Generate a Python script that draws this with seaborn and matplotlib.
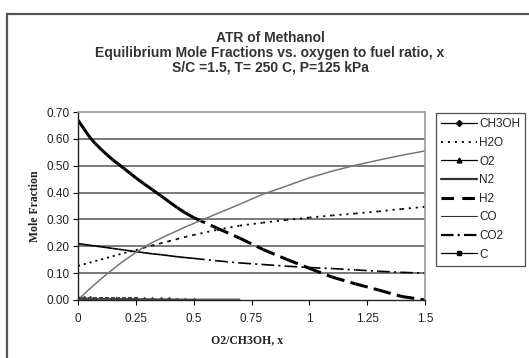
import numpy as np
import pandas as pd
import matplotlib
matplotlib.use("Agg")
import matplotlib.pyplot as plt
import seaborn as sns
from matplotlib.lines import Line2D
from matplotlib.patches import Rectangle

# ---------------- data ----------------
x = [0, 0.025, 0.05, 0.075, 0.1, 0.125, 0.15, 0.175, 0.2, 0.225, 0.25,
     0.286, 0.321, 0.357, 0.393, 0.429, 0.464, 0.5,
     0.6, 0.7, 0.8, 0.9, 1.0, 1.1, 1.2, 1.3, 1.4, 1.5]

h2 = [0.670, 0.638, 0.607, 0.582, 0.561, 0.541, 0.522, 0.506, 0.489, 0.472, 0.455,
      0.432, 0.411, 0.389, 0.366, 0.344, 0.324, 0.307,
      0.268, 0.230, 0.188, 0.152, 0.118, 0.085, 0.060, 0.037, 0.013, 0.000]

n2 = [0.000, 0.021, 0.041, 0.060, 0.079, 0.097, 0.114, 0.131, 0.147, 0.162, 0.177,
      0.198, 0.214, 0.229, 0.244, 0.258, 0.272, 0.285,
      0.321, 0.357, 0.394, 0.424, 0.455, 0.480, 0.502, 0.521, 0.539, 0.555]

h2o = [0.127, 0.133, 0.139, 0.145, 0.151, 0.157, 0.163, 0.169, 0.175, 0.180, 0.186,
       0.195, 0.203, 0.211, 0.219, 0.227, 0.235, 0.242,
       0.261, 0.277, 0.288, 0.298, 0.307, 0.315, 0.322, 0.330, 0.339, 0.347]

co2 = [0.210, 0.207, 0.204, 0.201, 0.198, 0.195, 0.192, 0.189, 0.186, 0.183, 0.180,
       0.176, 0.172, 0.169, 0.165, 0.161, 0.158, 0.155,
       0.146, 0.138, 0.132, 0.126, 0.121, 0.117, 0.112, 0.107, 0.103, 0.100]

ch3oh = [0.008, 0.007, 0.006, 0.0055, 0.005, 0.0045, 0.004, 0.0035, 0.003, 0.003, 0.0025,
         0.0025, 0.002, 0.002, 0.002, 0.0015, 0.0015, 0.001]

o2 = [0.003, 0.002, 0.002, 0.002, 0.002, 0.002, 0.002, 0.002, 0.002, 0.002, 0.002]

c_solid = [0.005, 0.005, 0.0045, 0.004, 0.004, 0.0035, 0.0035, 0.003, 0.003, 0.003, 0.003]

co = [0.006, 0.006, 0.0055, 0.0055, 0.005, 0.005, 0.005, 0.0045, 0.0045, 0.0045, 0.004,
      0.004, 0.004, 0.0035, 0.0035, 0.0035, 0.003, 0.003, 0.003, 0.003]

y_ticks = [0.0, 0.1, 0.2, 0.3, 0.4, 0.5, 0.6, 0.7]
y_labels = ["0.00", "0.10", "0.20", "0.30", "0.40", "0.50", "0.60", "0.70"]
x_ticks = [0, 0.25, 0.5, 0.75, 1.0, 1.25, 1.5]
x_labels = ["0", "0.25", "0.5", "0.75", "1", "1.25", "1.5"]

title_lines = ["ATR of Methanol",
               "Equilibrium Mole Fractions vs. oxygen to fuel ratio, x",
               "S/C =1.5, T= 250 C, P=125 kPa"]

# ---------------- style ----------------
sns.set_theme(style="white")
plt.rcParams["font.family"] = ["Liberation Sans", "DejaVu Sans"]
plt.rcParams["lines.scale_dashes"] = False

W, H = 529, 358
fig = plt.figure(figsize=(W / 100, H / 100), dpi=100)
fig.patch.set_facecolor("white")

# outer chart frame
fig.patches.append(Rectangle((6.5 / W, -0.1), 1.2, 1.1 - 14 / H,
                             transform=fig.transFigure, fill=False,
                             edgecolor="#555555", lw=1.6, zorder=0))

L, R, B, T = 78, 425, 300, 112
ax = fig.add_axes([L / W, 1 - B / H, (R - L) / W, (B - T) / H])


def segments(xs, ys):
    """Long table where each consecutive pair of points is its own unit
    (the dash pattern restarts on every segment, as in the original)."""
    rows = []
    for i in range(len(ys) - 1):
        rows.append((xs[i], ys[i], i))
        rows.append((xs[i + 1], ys[i + 1], i))
    return pd.DataFrame(rows, columns=["x", "y", "seg"])


# dashed / dotted series drawn segment by segment
sns.lineplot(data=segments(x, h2o), x="x", y="y", units="seg", estimator=None,
             color="black", lw=1.3, linestyle=(0, (1.5, 3.5)), ax=ax, legend=False)
sns.lineplot(data=segments(x, co2), x="x", y="y", units="seg", estimator=None,
             color="black", lw=1.2, linestyle=(0, (8, 3, 1.5, 3)), ax=ax, legend=False)
sns.lineplot(data=segments(x, h2), x="x", y="y", units="seg", estimator=None,
             color="black", lw=2.2, linestyle=(0, (9, 4.5)), ax=ax, legend=False)

# solid series
sns.lineplot(x=x, y=n2, color="#777777", lw=1.1, ax=ax, legend=False)
sns.lineplot(x=x[:len(co)], y=co, color="#333333", lw=0.8, ax=ax, legend=False)
sns.lineplot(x=x[:len(ch3oh)], y=ch3oh, color="#444444", lw=0.8, marker="D",
             markersize=2.8, markeredgewidth=0, ax=ax, legend=False)
sns.lineplot(x=x[:len(o2)], y=o2, color="#444444", lw=0.8, marker="^",
             markersize=3, markeredgewidth=0, ax=ax, legend=False)
sns.lineplot(x=x[:len(c_solid)], y=c_solid, color="#444444", lw=0.8, marker="s",
             markersize=2.6, markeredgewidth=0, ax=ax, legend=False)

# axes styling
ax.set_xlim(0, 1.5)
ax.set_ylim(0, 0.7)
ax.set_yticks(y_ticks)
ax.set_yticklabels(y_labels)
ax.set_xticks(x_ticks)
ax.set_xticklabels(x_labels)
ax.grid(False)
for yv in y_ticks[1:-1]:
    ax.axhline(yv, color="#555555", lw=1.1, zorder=0.5)
ax.tick_params(axis="both", which="major", labelsize=8.5, colors="black",
               direction="out", length=3.5, width=0.8, pad=2.5, left=True, bottom=True)
ax.tick_params(axis="y", labelcolor="#222222")
ax.tick_params(axis="x", labelcolor="#222222", pad=6)
for side in ["left", "bottom"]:
    ax.spines[side].set_color("#222222")
    ax.spines[side].set_linewidth(1.0)
for side in ["top", "right"]:
    ax.spines[side].set_color("#9a9a9a")
    ax.spines[side].set_linewidth(1.2)

ax.set_ylabel("Mole Fraction", fontfamily="Liberation Serif", fontweight="bold",
              fontsize=8.5, color="#222222")
ax.yaxis.set_label_coords(-0.108, 0.5)
ax.set_xlabel("O2/CH3OH, x", fontfamily="Liberation Serif", fontweight="bold",
              fontsize=8.5, color="#222222")
ax.xaxis.set_label_coords(0.487, -0.18)

for i, (line, yy) in enumerate(zip(title_lines, [38, 53, 68])):
    fig.text(270 / W, 1 - yy / H, line, ha="center", va="center",
             fontsize=10, fontweight="bold", color="#333333")

# legend (proxy handles mirroring the series styles)
handles = [
    Line2D([], [], color="black", lw=0.9, marker="D", markersize=3),
    Line2D([], [], color="black", lw=1.3, linestyle=(0, (1.5, 3.5))),
    Line2D([], [], color="black", lw=0.9, marker="^", markersize=3.5),
    Line2D([], [], color="#333333", lw=1.6),
    Line2D([], [], color="black", lw=2.2, linestyle=(0, (9, 6))),
    Line2D([], [], color="#333333", lw=0.8),
    Line2D([], [], color="black", lw=1.6, linestyle=(0, (9, 3, 1.5, 3))),
    Line2D([], [], color="black", lw=0.9, marker="s", markersize=3),
]
names = ["CH3OH", "H2O", "O2", "N2", "H2", "CO", "CO2", "C"]
leg = fig.legend(handles, names, loc="upper left",
                 bbox_to_anchor=(436 / W, 1 - 113 / H), bbox_transform=fig.transFigure,
                 fontsize=8.5, frameon=True, fancybox=False, shadow=False,
                 handlelength=3.0, handletextpad=0.2, labelspacing=0.56,
                 borderpad=0.45, borderaxespad=0)
leg.get_frame().set_edgecolor("#222222")
leg.get_frame().set_linewidth(0.9)
for t in leg.get_texts():
    t.set_color("#222222")

fig.savefig("out.png", dpi=100)
